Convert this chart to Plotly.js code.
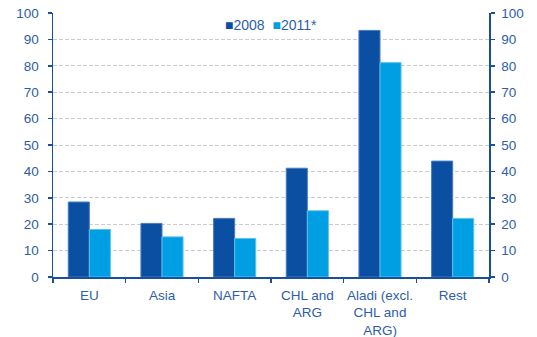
<!DOCTYPE html>
<html><head><meta charset="utf-8">
<script src="https://cdn.plot.ly/plotly-3.0.1.min.js"></script>
<style>html,body{margin:0;padding:0;background:#fff}#c{width:537px;height:337px}</style>
</head><body><div id="c"></div>
<script>
var categories = ["EU", "Asia", "NAFTA", "CHL and<br>ARG", "Aladi (excl.<br>CHL and<br>ARG)", "Rest"];
var seriesNames = ["2008", "2011*"];
var values2008 = [28.4, 20.3, 22.2, 41.2, 93.4, 43.9];
var values2011 = [18.0, 15.2, 14.6, 25.1, 81.2, 22.2];
var yTicks = [0, 10, 20, 30, 40, 50, 60, 70, 80, 90, 100];

var txt = "#2d5ea8", axc = "#1a4f9c";
var c1 = "#0b4fa3", c2 = "#009fe3";
var font = {family: "Liberation Sans, Arial, sans-serif", size: 13.5, color: txt};

var data = [
  {type: "bar", name: seriesNames[0], x: categories, y: values2008,
   marker: {color: c1, line: {color: "#4a7cc0", width: 1}}, hoverinfo: "skip"},
  {type: "bar", name: seriesNames[1], x: categories, y: values2011,
   marker: {color: c2, line: {color: "#5cc3ef", width: 1}}, hoverinfo: "skip"},
  {type: "scatter", mode: "none", x: categories, y: values2011, yaxis: "y2",
   showlegend: false, hoverinfo: "skip"}
];

var yax = {
  range: [0, 100], tickvals: yTicks, ticktext: yTicks.map(String),
  showline: true, linecolor: axc, linewidth: 1.5,
  ticks: "outside", ticklen: 4, tickcolor: axc, tickwidth: 1.5,
  ticklabelstandoff: 6,
  showgrid: true, gridcolor: "#cccccc", griddash: "4px,2px", gridwidth: 1,
  zeroline: false, tickfont: font, fixedrange: true
};
var yax2 = Object.assign({}, yax, {overlaying: "y", side: "right", showgrid: false, ticklabelstandoff: 4});

var legendText = "<span style='color:" + c1 + "'>■</span>" + seriesNames[0] +
  "  <span style='color:" + c2 + "'>■</span>" + seriesNames[1];

var layout = {
  width: 537, height: 337,
  margin: {l: 53, r: 48, t: 13, b: 60},
  paper_bgcolor: "#ffffff", plot_bgcolor: "#ffffff",
  font: font,
  barmode: "group", bargap: 0.42, bargroupgap: 0,
  showlegend: false,
  annotations: [{
    xref: "paper", yref: "paper", x: 0.5, y: 0.955, xanchor: "center", yanchor: "middle",
    text: legendText, showarrow: false, font: {family: font.family, size: 14, color: txt}
  }],
  xaxis: {
    type: "category", tickson: "boundaries",
    showline: true, linecolor: axc, linewidth: 1.5,
    ticks: "outside", ticklen: 4, tickcolor: axc, tickwidth: 1.5,
    ticklabelstandoff: 5,
    showgrid: false, tickfont: font, fixedrange: true, tickangle: 0
  },
  yaxis: yax,
  yaxis2: yax2
};

Plotly.newPlot("c", data, layout, {staticPlot: true, displayModeBar: false});
</script>
</body></html>
